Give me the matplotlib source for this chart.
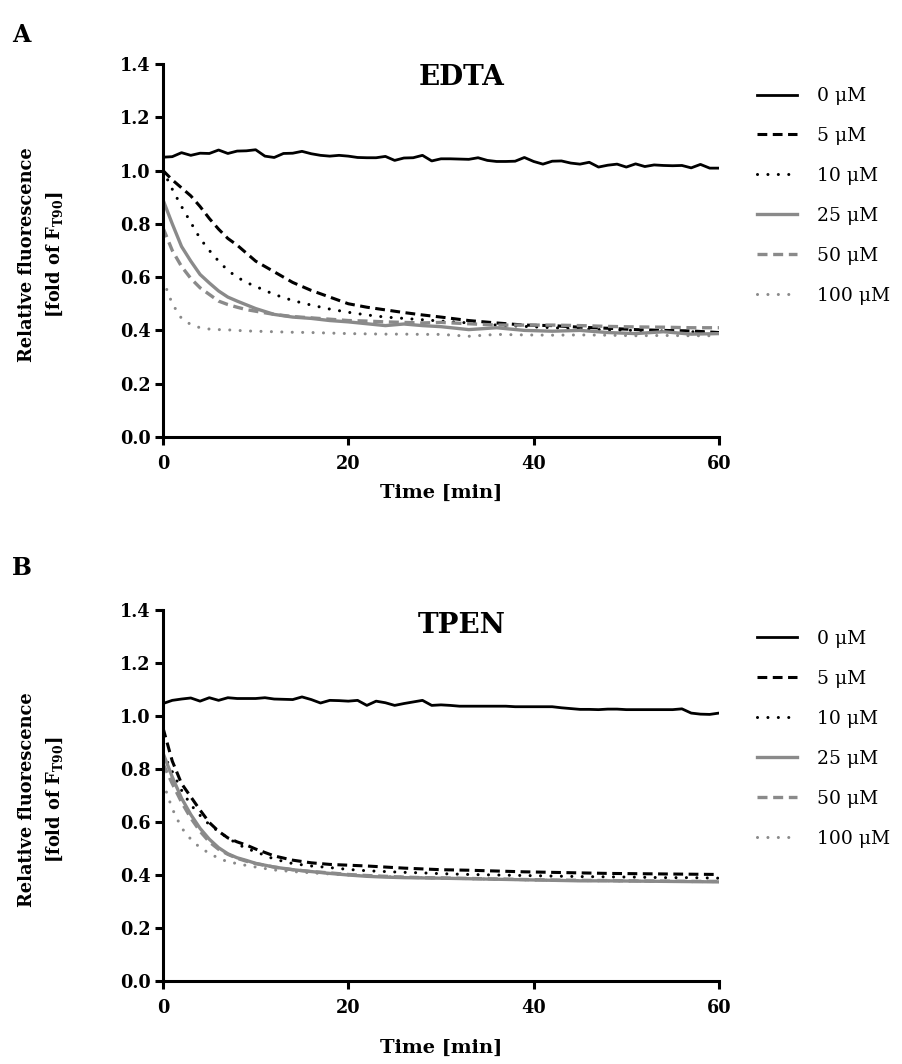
import numpy as np
import matplotlib
matplotlib.use("Agg")
import matplotlib.pyplot as plt
from matplotlib.ticker import FormatStrFormatter

plt.rcParams['font.family'] = ['DejaVu Serif']
plt.rcParams['mathtext.fontset'] = 'custom'
plt.rcParams['mathtext.rm'] = 'DejaVu Serif:bold'
plt.rcParams['mathtext.it'] = 'DejaVu Serif:bold'
plt.rcParams['mathtext.bf'] = 'DejaVu Serif:bold'

# time axis (min)
t_fine = list(range(0, 61))
t_dec = [0, 1, 2, 3, 4, 5, 6, 7, 8, 9, 10, 12, 14, 16, 18, 20, 22, 24, 26, 28,
         30, 33, 36, 39, 42, 45, 48, 51, 54, 57, 60]

labels = ["0 \u03bcM", "5 \u03bcM", "10 \u03bcM", "25 \u03bcM", "50 \u03bcM", "100 \u03bcM"]

# EDTA
edta_0 = [1.050, 1.052, 1.067, 1.057, 1.065, 1.064, 1.077, 1.064, 1.073, 1.074,
          1.078, 1.054, 1.049, 1.064, 1.065, 1.072, 1.063, 1.057, 1.054, 1.057,
          1.054, 1.049, 1.048, 1.048, 1.053, 1.038, 1.047, 1.048, 1.057, 1.036,
          1.044, 1.044, 1.043, 1.042, 1.048, 1.038, 1.034, 1.034, 1.035, 1.049,
          1.034, 1.024, 1.035, 1.036, 1.028, 1.024, 1.031, 1.013, 1.020, 1.024,
          1.013, 1.025, 1.015, 1.021, 1.019, 1.018, 1.019, 1.010, 1.023, 1.009,
          1.009]
edta_5 = [1.00, 0.965, 0.935, 0.905, 0.865, 0.82, 0.78, 0.745, 0.72, 0.69, 0.66,
          0.62, 0.58, 0.55, 0.525, 0.50, 0.487, 0.477, 0.467, 0.458, 0.45, 0.437,
          0.428, 0.42, 0.418, 0.412, 0.408, 0.403, 0.40, 0.398, 0.392]
edta_10 = [1.00, 0.93, 0.865, 0.805, 0.745, 0.70, 0.66, 0.625, 0.60, 0.58, 0.565,
           0.535, 0.512, 0.495, 0.48, 0.468, 0.458, 0.45, 0.445, 0.44, 0.435,
           0.428, 0.42, 0.415, 0.41, 0.406, 0.402, 0.40, 0.398, 0.395, 0.39]
edta_25 = [0.89, 0.80, 0.715, 0.66, 0.61, 0.578, 0.548, 0.525, 0.51, 0.496, 0.482,
           0.46, 0.45, 0.445, 0.437, 0.432, 0.425, 0.418, 0.424, 0.418, 0.414,
           0.403, 0.41, 0.40, 0.397, 0.40, 0.392, 0.388, 0.395, 0.386, 0.388]
edta_50 = [0.785, 0.70, 0.64, 0.595, 0.56, 0.535, 0.51, 0.497, 0.487, 0.478,
           0.472, 0.46, 0.452, 0.447, 0.442, 0.437, 0.435, 0.432, 0.43, 0.428,
           0.43, 0.425, 0.42, 0.42, 0.42, 0.418, 0.415, 0.413, 0.412, 0.41, 0.41]
edta_100 = [0.59, 0.50, 0.445, 0.422, 0.41, 0.405, 0.403, 0.402, 0.40, 0.398,
            0.397, 0.395, 0.393, 0.392, 0.39, 0.388, 0.387, 0.386, 0.386, 0.385,
            0.385, 0.378, 0.385, 0.383, 0.382, 0.383, 0.382, 0.38, 0.381, 0.38,
            0.38]

# TPEN
tpen_0 = [1.047, 1.059, 1.064, 1.068, 1.056, 1.069, 1.059, 1.069, 1.066, 1.066,
          1.066, 1.069, 1.064, 1.063, 1.062, 1.072, 1.062, 1.049, 1.059, 1.058,
          1.056, 1.059, 1.040, 1.056, 1.050, 1.040, 1.047, 1.053, 1.059, 1.040,
          1.042, 1.040, 1.037, 1.037, 1.037, 1.037, 1.037, 1.037, 1.035, 1.035,
          1.035, 1.035, 1.035, 1.031, 1.028, 1.025, 1.025, 1.024, 1.026, 1.026,
          1.024, 1.024, 1.024, 1.024, 1.024, 1.024, 1.027, 1.011, 1.007, 1.006,
          1.011]
tpen_5 = [0.955, 0.83, 0.745, 0.695, 0.645, 0.598, 0.565, 0.54, 0.525, 0.513,
          0.498, 0.472, 0.456, 0.446, 0.44, 0.437, 0.434, 0.43, 0.426, 0.423,
          0.42, 0.418, 0.415, 0.412, 0.41, 0.408, 0.406, 0.405, 0.404, 0.403,
          0.402]
tpen_10 = [0.86, 0.79, 0.72, 0.665, 0.625, 0.59, 0.564, 0.54, 0.518, 0.50, 0.488,
           0.46, 0.443, 0.434, 0.428, 0.421, 0.416, 0.413, 0.41, 0.408, 0.405,
           0.402, 0.40, 0.398, 0.396, 0.394, 0.393, 0.392, 0.39, 0.39, 0.388]
tpen_25 = [0.86, 0.77, 0.69, 0.628, 0.576, 0.535, 0.503, 0.48, 0.465, 0.455,
           0.444, 0.43, 0.42, 0.413, 0.406, 0.40, 0.395, 0.392, 0.39, 0.389,
           0.388, 0.386, 0.384, 0.382, 0.38, 0.378, 0.378, 0.377, 0.376, 0.375,
           0.374]
tpen_50 = [0.82, 0.745, 0.675, 0.615, 0.565, 0.525, 0.497, 0.478, 0.463, 0.452,
           0.443, 0.43, 0.42, 0.413, 0.408, 0.402, 0.398, 0.395, 0.392, 0.39,
           0.389, 0.387, 0.385, 0.383, 0.381, 0.38, 0.379, 0.378, 0.377, 0.376,
           0.376]
tpen_100 = [0.75, 0.65, 0.578, 0.535, 0.503, 0.482, 0.463, 0.45, 0.443, 0.436,
            0.43, 0.419, 0.413, 0.408, 0.404, 0.40, 0.397, 0.394, 0.392, 0.39,
            0.388, 0.386, 0.384, 0.382, 0.38, 0.379, 0.378, 0.377, 0.376, 0.375,
            0.375]

black = "#000000"
gray = "#8a8a8a"
styles = [
    dict(color=black, lw=2.0, ls="-"),
    dict(color=black, lw=2.2, dashes=(3.2, 1.8)),
    dict(color=black, lw=2.2, dashes=(0.01, 3.4), dash_capstyle="round"),
    dict(color=gray, lw=2.4, ls="-"),
    dict(color=gray, lw=2.4, dashes=(3.0, 1.7)),
    dict(color=gray, lw=2.2, dashes=(0.01, 3.4), dash_capstyle="round"),
]


def panel(ax, title, series, title_y, leg_top, xlab_y):
    xs = [t_fine] + [t_dec] * 5
    for x, y, lab, st in zip(xs, series, labels, styles):
        ax.plot(x, y, label=lab, **st)
    ax.set_xlim(0, 60)
    ax.set_ylim(0, 1.4)
    ax.set_xticks([0, 20, 40, 60])
    ax.set_yticks(np.arange(0, 1.41, 0.2))
    ax.yaxis.set_major_formatter(FormatStrFormatter("%.1f"))
    for s in ["top", "right"]:
        ax.spines[s].set_visible(False)
    for s in ["left", "bottom"]:
        ax.spines[s].set_linewidth(2.2)
    ax.tick_params(width=2.2, length=6, labelsize=12.7)
    ax.tick_params(axis="x", pad=7)
    ax.tick_params(axis="y", pad=3)
    for lbl in ax.get_xticklabels() + ax.get_yticklabels():
        lbl.set_fontweight("bold")
    ax.set_xlabel("Time [min]", fontsize=14, fontweight="bold")
    ax.xaxis.set_label_coords(0.5, xlab_y)
    ax.set_ylabel("Relative fluorescence\n[fold of F$_{\\mathrm{T90}}$]",
                  fontsize=12.8, fontweight="bold", linespacing=1.6)
    ax.yaxis.set_label_coords(-0.176, 0.49)
    ax.text(0.537, title_y, title, transform=ax.transAxes, ha="center",
            va="center", fontsize=20, fontweight="bold")
    ax.legend(loc="upper left", bbox_to_anchor=(1.068, leg_top), frameon=False,
              prop=dict(family="DejaVu Serif", size=13.5), handlelength=2.15,
              handletextpad=1.05, labelspacing=1.17, borderaxespad=0,
              borderpad=0)


fig = plt.figure(figsize=(9.02, 10.64), dpi=100)
axA = fig.add_axes([0.1807, 0.5893, 0.6164, 0.3506])
axB = fig.add_axes([0.1807, 0.0780, 0.6164, 0.3487])

panel(axA, "EDTA", [edta_0, edta_5, edta_10, edta_25, edta_50, edta_100],
      0.965, 0.938, -0.125)
panel(axB, "TPEN", [tpen_0, tpen_5, tpen_10, tpen_25, tpen_50, tpen_100],
      0.957, 0.946, -0.155)

fig.text(0.013, 0.967, "A", fontsize=17, fontweight="bold", va="center")
fig.text(0.013, 0.466, "B", fontsize=17, fontweight="bold", va="center")

fig.savefig("out.png", dpi=100)
